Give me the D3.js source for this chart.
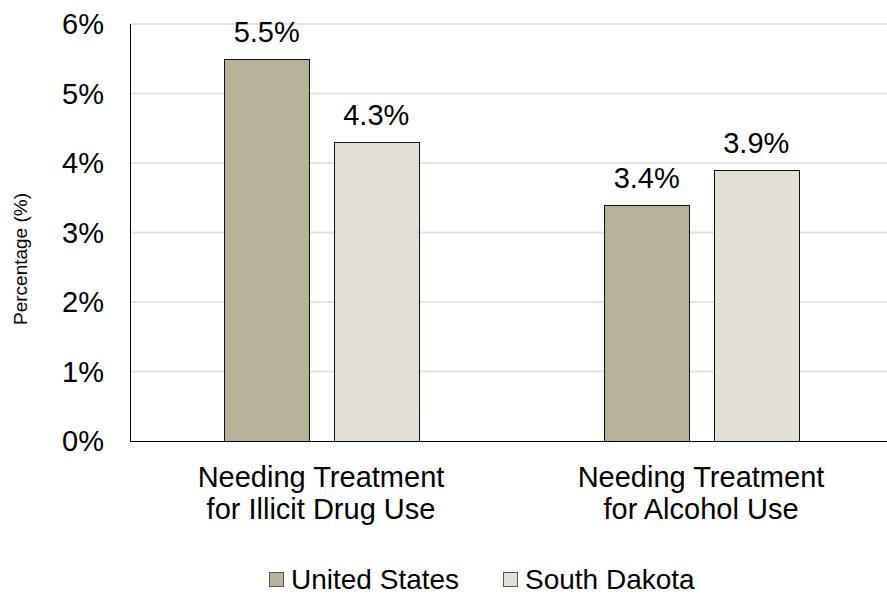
<!DOCTYPE html>
<html>
<head>
<meta charset="utf-8">
<script src="https://cdn.jsdelivr.net/npm/d3@7"></script>
<style>
  body { margin: 0; background: #fff; }
  text { font-family: "Liberation Sans", Arial, sans-serif; fill: #000; }
</style>
</head>
<body>
<svg id="chart"></svg>
<script>
const categories = [["Needing Treatment", "for Illicit Drug Use"], ["Needing Treatment", "for Alcohol Use"]];
const seriesNames = ["United States", "South Dakota"];
const unitedStates = [5.5, 3.4];
const southDakota = [4.3, 3.9];
const yTicks = [0, 1, 2, 3, 4, 5, 6];
const colors = ["#b8b29b", "#e2e0d5"];

const width = 887, height = 594;
const margin = {left: 130, right: 0, top: 24, bottom: 153};

const svg = d3.select("#chart").attr("width", width).attr("height", height);

const y = d3.scaleLinear().domain([0, 6]).range([height - margin.bottom, margin.top]);
const x = d3.scaleBand().domain([0, 1]).range([margin.left + 1, 891]);
const xs = d3.scaleBand().domain([0, 1]).range([0, 195]).paddingInner(0.22);

// gridlines
svg.append("g").selectAll("line")
  .data(yTicks.filter(d => d > 0))
  .join("line")
  .attr("x1", margin.left).attr("x2", width - margin.right)
  .attr("y1", d => y(d)).attr("y2", d => y(d))
  .attr("stroke", "#e3e3e3").attr("stroke-width", 2);

// y tick labels
svg.append("g").selectAll("text")
  .data(yTicks)
  .join("text")
  .attr("x", 104).attr("y", d => y(d))
  .attr("dy", "0.36em")
  .attr("text-anchor", "end")
  .attr("font-size", 29)
  .text(d => d + "%");

// bars
const data = categories.map((c, i) => [unitedStates[i], southDakota[i]]);
const groups = svg.append("g").selectAll("g")
  .data(data)
  .join("g")
  .attr("transform", (d, i) => `translate(${Math.round(x(i) + x.bandwidth() / 2 - 97.5)},0)`);

groups.selectAll("rect")
  .data(d => d)
  .join("rect")
  .attr("x", (d, j) => Math.round(xs(j)) + 0.5)
  .attr("y", d => Math.round(y(d)) + 0.5)
  .attr("width", Math.round(xs.bandwidth()))
  .attr("height", d => y(0) - Math.round(y(d)))
  .attr("fill", (d, j) => colors[j])
  .attr("stroke", "#111")
  .attr("stroke-width", 1);

groups.selectAll("text")
  .data(d => d)
  .join("text")
  .attr("x", (d, j) => xs(j) + xs.bandwidth() / 2)
  .attr("y", d => y(d) - 17)
  .attr("text-anchor", "middle")
  .attr("font-size", 29)
  .text(d => d.toFixed(1) + "%");

// axes lines
svg.append("line")
  .attr("x1", margin.left + 0.5).attr("x2", margin.left + 0.5)
  .attr("y1", margin.top).attr("y2", y(0))
  .attr("stroke", "#000");
svg.append("line")
  .attr("x1", margin.left).attr("x2", width - margin.right)
  .attr("y1", y(0) + 0.5).attr("y2", y(0) + 0.5)
  .attr("stroke", "#000");

// category labels
svg.append("g").selectAll("text")
  .data(categories)
  .join("text")
  .attr("text-anchor", "middle")
  .attr("font-size", 29)
  .each(function(c, i) {
    d3.select(this).selectAll("tspan")
      .data(c)
      .join("tspan")
      .attr("x", x(i) + x.bandwidth() / 2)
      .attr("y", (d, k) => 487 + k * 32)
      .text(d => d);
  });

// y axis title
svg.append("text")
  .attr("transform", "translate(27,259) rotate(-90)")
  .attr("text-anchor", "middle")
  .attr("font-size", 19)
  .text("Percentage (%)");

// legend
const legend = svg.append("g");
const legendX = [269, 503];
seriesNames.forEach((name, i) => {
  legend.append("rect")
    .attr("x", legendX[i] + 0.5).attr("y", 572.5)
    .attr("width", 14).attr("height", 14)
    .attr("fill", colors[i]).attr("stroke", "#555");
  legend.append("text")
    .attr("x", legendX[i] + 22).attr("y", 589)
    .attr("font-size", 28)
    .text(name);
});
</script>
</body>
</html>
